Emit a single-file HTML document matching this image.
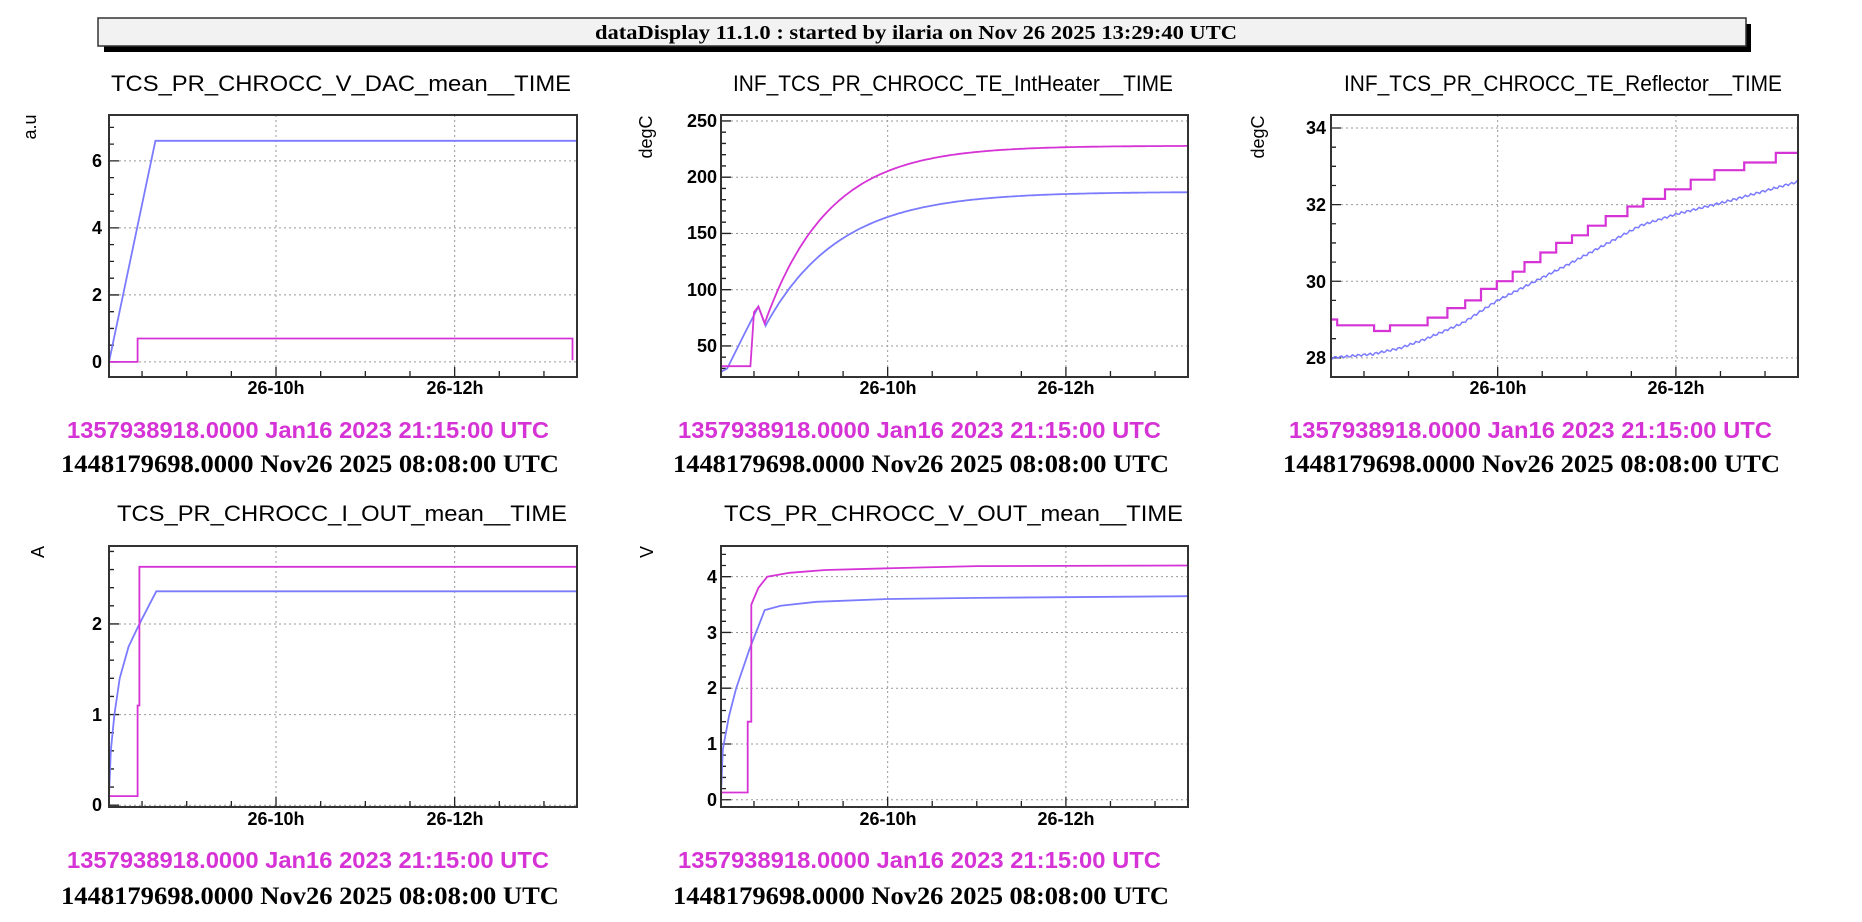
<!DOCTYPE html>
<html><head><meta charset="utf-8">
<style>
html,body{margin:0;padding:0;background:#fff;}
svg{display:block;}
.t{font-family:"Liberation Sans",sans-serif;font-size:22px;fill:#000;}
.m{font-family:"Liberation Sans",sans-serif;font-size:23px;font-weight:bold;fill:#d633d6;}
.b{font-family:"Liberation Serif",serif;font-size:25px;font-weight:bold;fill:#000;}
.tk{font-family:"Liberation Sans",sans-serif;font-size:18px;font-weight:bold;fill:#000;}
.ax{font-family:"Liberation Sans",sans-serif;font-size:18px;fill:#000;}
</style></head>
<body>
<svg id="s" width="1862" height="922" viewBox="0 0 1862 922" xmlns="http://www.w3.org/2000/svg">
<rect x="104" y="24" width="1647" height="28" fill="#000"/>
<rect x="98" y="18" width="1648" height="28" fill="#f2f2f2" stroke="#333" stroke-width="1.5"/>
<text x="916" y="39" text-anchor="middle" font-family="Liberation Serif,serif" font-weight="bold" font-size="20" textLength="642" lengthAdjust="spacingAndGlyphs">dataDisplay 11.1.0 : started by ilaria on Nov 26 2025 13:29:40 UTC</text>

<text class="t" x="111" y="91" textLength="460" lengthAdjust="spacingAndGlyphs">TCS_PR_CHROCC_V_DAC_mean__TIME</text>
<text class="t" x="733" y="91" textLength="440" lengthAdjust="spacingAndGlyphs">INF_TCS_PR_CHROCC_TE_IntHeater__TIME</text>
<text class="t" x="1344" y="91" textLength="438" lengthAdjust="spacingAndGlyphs">INF_TCS_PR_CHROCC_TE_Reflector__TIME</text>
<text class="t" x="117" y="521" textLength="450" lengthAdjust="spacingAndGlyphs">TCS_PR_CHROCC_I_OUT_mean__TIME</text>
<text class="t" x="724" y="521" textLength="459" lengthAdjust="spacingAndGlyphs">TCS_PR_CHROCC_V_OUT_mean__TIME</text>

<text class="ax" transform="translate(36,127) rotate(-90)" text-anchor="middle">a.u</text>
<text class="ax" transform="translate(652,137) rotate(-90)" text-anchor="middle">degC</text>
<text class="ax" transform="translate(1264,137) rotate(-90)" text-anchor="middle">degC</text>
<text class="ax" transform="translate(44,552) rotate(-90)" text-anchor="middle">A</text>
<text class="ax" transform="translate(653,552) rotate(-90)" text-anchor="middle">V</text>

<text class="m" x="67" y="438" textLength="482" lengthAdjust="spacingAndGlyphs">1357938918.0000 Jan16 2023 21:15:00 UTC</text>
<text class="b" x="61" y="472" textLength="498" lengthAdjust="spacingAndGlyphs">1448179698.0000 Nov26 2025 08:08:00 UTC</text>
<text class="m" x="678" y="438" textLength="483" lengthAdjust="spacingAndGlyphs">1357938918.0000 Jan16 2023 21:15:00 UTC</text>
<text class="b" x="673" y="472" textLength="496" lengthAdjust="spacingAndGlyphs">1448179698.0000 Nov26 2025 08:08:00 UTC</text>
<text class="m" x="1289" y="438" textLength="483" lengthAdjust="spacingAndGlyphs">1357938918.0000 Jan16 2023 21:15:00 UTC</text>
<text class="b" x="1283" y="472" textLength="497" lengthAdjust="spacingAndGlyphs">1448179698.0000 Nov26 2025 08:08:00 UTC</text>
<text class="m" x="67" y="868" textLength="482" lengthAdjust="spacingAndGlyphs">1357938918.0000 Jan16 2023 21:15:00 UTC</text>
<text class="b" x="61" y="904" textLength="498" lengthAdjust="spacingAndGlyphs">1448179698.0000 Nov26 2025 08:08:00 UTC</text>
<text class="m" x="678" y="868" textLength="483" lengthAdjust="spacingAndGlyphs">1357938918.0000 Jan16 2023 21:15:00 UTC</text>
<text class="b" x="673" y="904" textLength="496" lengthAdjust="spacingAndGlyphs">1448179698.0000 Nov26 2025 08:08:00 UTC</text>

<!-- x tick labels -->
<text class="tk" x="276" y="394" text-anchor="middle">26-10h</text>
<text class="tk" x="455" y="394" text-anchor="middle">26-12h</text>
<text class="tk" x="888" y="394" text-anchor="middle">26-10h</text>
<text class="tk" x="1066" y="394" text-anchor="middle">26-12h</text>
<text class="tk" x="1498" y="394" text-anchor="middle">26-10h</text>
<text class="tk" x="1676" y="394" text-anchor="middle">26-12h</text>
<text class="tk" x="276" y="825" text-anchor="middle">26-10h</text>
<text class="tk" x="455" y="825" text-anchor="middle">26-12h</text>
<text class="tk" x="888" y="825" text-anchor="middle">26-10h</text>
<text class="tk" x="1066" y="825" text-anchor="middle">26-12h</text>

<!-- y tick labels -->
<text class="tk" x="102" y="368" text-anchor="end">0</text>
<text class="tk" x="102" y="301" text-anchor="end">2</text>
<text class="tk" x="102" y="234" text-anchor="end">4</text>
<text class="tk" x="102" y="167" text-anchor="end">6</text>

<text class="tk" x="717" y="352" text-anchor="end">50</text>
<text class="tk" x="717" y="296" text-anchor="end">100</text>
<text class="tk" x="717" y="239" text-anchor="end">150</text>
<text class="tk" x="717" y="183" text-anchor="end">200</text>
<text class="tk" x="717" y="127" text-anchor="end">250</text>

<text class="tk" x="1326" y="364" text-anchor="end">28</text>
<text class="tk" x="1326" y="288" text-anchor="end">30</text>
<text class="tk" x="1326" y="211" text-anchor="end">32</text>
<text class="tk" x="1326" y="134" text-anchor="end">34</text>

<text class="tk" x="102" y="811" text-anchor="end">0</text>
<text class="tk" x="102" y="721" text-anchor="end">1</text>
<text class="tk" x="102" y="630" text-anchor="end">2</text>

<text class="tk" x="717" y="806" text-anchor="end">0</text>
<text class="tk" x="717" y="750" text-anchor="end">1</text>
<text class="tk" x="717" y="694" text-anchor="end">2</text>
<text class="tk" x="717" y="639" text-anchor="end">3</text>
<text class="tk" x="717" y="583" text-anchor="end">4</text>
<g id="g"></g>
</svg>
<script>
const NS="http://www.w3.org/2000/svg";const G=document.getElementById('g');
function el(n,a){const e=document.createElementNS(NS,n);for(const k in a)e.setAttribute(k,a[k]);G.appendChild(e);return e;}
const T0=8.13,T1=13.37;
function plot(c){
 const X=t=>c.l+(t-T0)/(T1-T0)*(c.r-c.l);
 const Y=v=>c.b-(v-c.y0)/(c.y1-c.y0)*(c.b-c.t);
 let d="";
 [10,12].forEach(t=>{d+=`M${X(t)},${c.t}V${c.b}`;});
 for(let v=c.maj0;v<=c.y1+1e-9;v+=c.maj){if(v>=c.y0)d+=`M${c.l},${Y(v)}H${c.r}`;}
 el('path',{d,stroke:'#999','stroke-width':1,'stroke-dasharray':'2,3',fill:'none'});
 let tk="";
 for(let t=8.5;t<T1;t+=0.5){const L=(Math.abs(t-10)<.01||Math.abs(t-12)<.01)?10:6;tk+=`M${X(t)},${c.b}v${-L}`;}
 for(let v=Math.ceil(c.y0/c.min)*c.min;v<=c.y1;v+=c.min){const isM=Math.abs((v-c.maj0)/c.maj-Math.round((v-c.maj0)/c.maj))<1e-6;tk+=`M${c.l},${Y(v)}h${isM?10:5}`;}
 el('path',{d:tk,stroke:'#222','stroke-width':1.3,fill:'none'});
 c.s.forEach(s=>{
  let p=s.p.map((q,i)=>(i?'L':'M')+X(q[0]).toFixed(1)+','+Y(q[1]).toFixed(1)).join('');
  el('path',{d:p,stroke:s.c,'stroke-width':s.w||1.8,fill:'none'});
 });
 el('rect',{x:c.l,y:c.t,width:c.r-c.l,height:c.b-c.t,fill:'none',stroke:'#333','stroke-width':2});
}
const BL='#7b7bff',MG='#d633d6';
function expo(t0,v0,A,tau,t1){const a=[];for(let t=t0;t<=t1;t+=0.03)a.push([t,A-(A-v0)*Math.exp(-(t-t0)/tau)]);a.push([t1,A-(A-v0)*Math.exp(-(t1-t0)/tau)]);return a;}
plot({l:109,r:577,t:115,b:377,y0:-0.45,y1:7.37,maj:2,maj0:0,min:0.5,s:[
 {c:BL,p:[[8.13,0],[8.65,6.6],[13.37,6.6]]},
 {c:MG,p:[[8.13,0],[8.45,0],[8.45,0.7],[13.32,0.7],[13.32,0.05]]}]});
plot({l:721,r:1188,t:115,b:377,y0:22.4,y1:255.3,maj:50,maj0:50,min:10,s:[
 {c:BL,p:[[8.13,27],[8.2,30],[8.4,62],[8.55,85],[8.63,68]].concat(expo(8.63,68,187,0.82,13.37))},
 {c:MG,p:[[8.13,32],[8.46,32],[8.5,80],[8.55,85],[8.62,70]].concat(expo(8.62,70,228,0.71,13.37))}]});
const zt=zx=>T0+(zx-231)/(1411-231)*(T1-T0);
const steps=[[475,29.05],[525,29.3],[570,29.5],[610,29.8],[650,30.0],[690,30.25],[720,30.5],[760,30.75],[800,31.0],[840,31.2],[880,31.45],[925,31.7],[980,31.95],[1020,32.15],[1075,32.4],[1140,32.65],[1200,32.9],[1275,33.1],[1355,33.35]];
let mg=[[8.13,29.0],[8.2,29.0],[8.2,28.85],[zt(340),28.85],[zt(340),28.7],[zt(380),28.7],[zt(380),28.85]];
let cur=28.85;steps.forEach(s=>{mg.push([zt(s[0]),cur]);mg.push([zt(s[0]),s[1]]);cur=s[1];});mg.push([13.37,cur]);
const bk=[[8.13,28],[8.6,28.1],[8.9,28.25],[9.2,28.5],[9.6,28.9],[10,29.5],[10.8,30.45],[11.6,31.45],[12,31.75],[12.6,32.1],[13.37,32.6]];
let bl=[];for(let i=0;i<bk.length-1;i++){const [a,va]=bk[i],[b,vb]=bk[i+1];for(let t=a;t<b;t+=0.02){bl.push([t,va+(vb-va)*(t-a)/(b-a)+(Math.sin(t*97)*0.03)]);}}bl.push([13.37,32.6]);
plot({l:1331,r:1798,t:115,b:377,y0:27.5,y1:34.34,maj:2,maj0:28,min:0.5,s:[
 {c:BL,p:bl,w:1.5},{c:MG,p:mg,w:2.2}]});
plot({l:109,r:577,t:546,b:807,y0:-0.02,y1:2.86,maj:1,maj0:0,min:0.2,s:[
 {c:BL,p:[[8.13,0.1],[8.15,0.6],[8.19,1.0],[8.25,1.4],[8.35,1.75],[8.47,2.0],[8.66,2.36],[13.37,2.36]]},
 {c:MG,p:[[8.13,0.1],[8.45,0.1],[8.45,1.1],[8.47,1.1],[8.47,2.63],[13.37,2.63]]}]});
plot({l:721,r:1188,t:546,b:807,y0:-0.13,y1:4.55,maj:1,maj0:0,min:0.2,s:[
 {c:BL,p:[[8.13,0.1],[8.15,0.9],[8.22,1.5],[8.3,2.0],[8.45,2.7],[8.62,3.4],[8.8,3.48],[9.2,3.55],[10,3.6],[11,3.62],[13.37,3.65]]},
 {c:MG,p:[[8.13,0.13],[8.43,0.13],[8.43,1.4],[8.47,1.4],[8.47,3.5],[8.55,3.8],[8.65,4.0],[8.9,4.07],[9.3,4.12],[10,4.15],[11,4.19],[13.37,4.2]]}]});
</script>
</body></html>
